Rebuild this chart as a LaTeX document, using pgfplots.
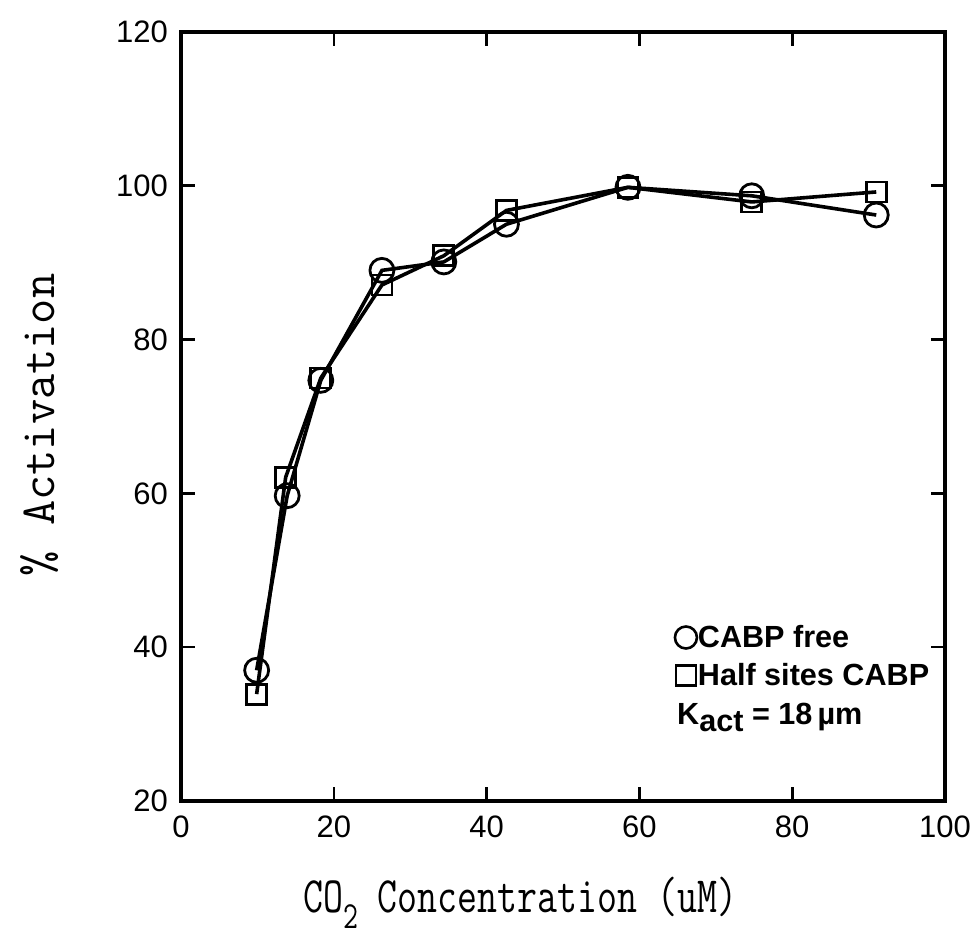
\documentclass[border=0pt]{standalone}
\usepackage{graphicx}
\usepackage{fontspec}
\setmainfont{Liberation Sans}
\usepackage{pgfplots}
\pgfplotsset{compat=1.18}
\pgfplotsset{mylegimg/.style={legend image code/.code={\draw[##1] plot coordinates {(0pt,0pt)};}}}
\begin{document}
\begin{tikzpicture}
\begin{axis}[
  name=ax,
  width=382pt, height=384.5pt, scale only axis,
  xmin=0, xmax=100, ymin=20, ymax=120,
  xtick={0,20,...,100}, ytick={20,40,...,120},
  tick align=inside, major tick length=7pt,
  axis line style={line width=1.6pt},
  every tick/.style={line width=1.3pt, black},
  /pgf/number format/assume math mode=true,
  tick label style={font=\fontsize{15.5pt}{18pt}\selectfont},
  xticklabel style={yshift=-4pt},
  yticklabel style={xshift=-3pt},
  xlabel={\scalebox{0.76}[1]{\ttfamily CO\raisebox{-0.3em}{\scalebox{0.75}{2}} Concentration (uM)}},
  ylabel={\ttfamily \% Activation},
  every axis x label/.style={at={(axis description cs:0.444,-0.1456)}, anchor=base, font=\fontsize{25.5pt}{30pt}\selectfont},
  every axis y label/.style={at={(axis description cs:-0.1846,0.489)}, anchor=center, rotate=90, font=\fontsize{24.5pt}{28pt}\selectfont},
  mylegimg,
  legend style={at={(axis cs:64.6,42.95)}, anchor=north west, draw=none, fill=none,
    inner sep=0pt, row sep=6.5pt, column sep=0.5pt,
    font=\fontsize{15.3pt}{18pt}\selectfont\bfseries,
    nodes={inner sep=0pt}},
  legend cell align=left,
]
\addplot[forget plot, black, line width=1.8pt, mark=o, mark size=6pt, mark options={line width=1.4pt, fill=none, solid}]
 coordinates {(9.9,37.0) (13.9,59.7) (18.3,74.7) (26.3,89.0) (34.4,90.1) (42.6,95.0) (58.5,99.8) (74.7,98.7) (91.0,96.2)};
\addplot[forget plot, black, line width=1.8pt, mark=square, mark size=5pt, mark options={line width=1.4pt, fill=none, solid}]
 coordinates {(9.9,33.9) (13.7,62.1) (18.3,75.0) (26.3,87.1) (34.4,90.9) (42.6,96.8) (58.5,99.8) (74.7,97.9) (91.0,99.2)};
\addlegendimage{black, mark=o, mark size=5.5pt, line width=1.3pt}
\addlegendentry{CABP free}
\addlegendimage{black, mark=square, mark size=5pt, line width=1.3pt}
\addlegendentry{Half sites CABP}
\node[anchor=base west, inner sep=0pt, font=\fontsize{15.3pt}{18pt}\selectfont\bfseries] at (axis cs:64.9,29.9) {K\raisebox{-3.5pt}{act} = 18\,µm};
\end{axis}
\pgfresetboundingbox
\path ([shift={(-90.5pt,-67pt)}]ax.south west) rectangle ([shift={(16pt,16pt)}]ax.north east);
\end{tikzpicture}
\end{document}
